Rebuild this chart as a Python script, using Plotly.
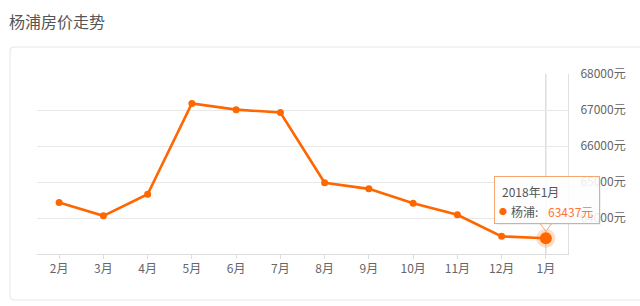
import plotly.graph_objects as go

title_text = "杨浦房价走势"
months = ["2月", "3月", "4月", "5月", "6月", "7月", "8月", "9月", "10月", "11月", "12月", "1月"]
prices = [64430, 64060, 64660, 67180, 67010, 66930, 64980, 64810, 64410, 64090, 63490, 63437]
y_ticks = [64000, 65000, 66000, 67000, 68000]
y_suffix = "元"
series_name = "杨浦"
tooltip_date = "2018年1月"

ORANGE = "#ff6600"
FONT = "Noto Sans CJK SC"

W, H = 640, 306
ML, MR, MT, MB = 37, 72, 74, 52
PW, PH = W - ML - MR, H - MT - MB


def px_x(p):
    return (p - ML) / PW


def px_y(p):
    return (H - MB - p) / PH


fig = go.Figure()
fig.add_trace(go.Scatter(
    x=months, y=prices, mode="lines+markers",
    line=dict(color=ORANGE, width=2.6),
    marker=dict(size=7, color=ORANGE),
    hoverinfo="skip", showlegend=False,
))
# highlighted (hovered) last point
fig.add_trace(go.Scatter(
    x=[months[-1]], y=[prices[-1]], mode="markers",
    marker=dict(size=19, color="rgba(255,102,0,0.22)"),
    hoverinfo="skip", showlegend=False,
))
fig.add_trace(go.Scatter(
    x=[months[-1]], y=[prices[-1]], mode="markers",
    marker=dict(size=12, color=ORANGE),
    hoverinfo="skip", showlegend=False,
))

shapes = []
# card border with rounded corners
x0, x1 = px_x(10), px_x(645)
y0, y1 = px_y(47), px_y(300)
rx, ry = 4 / PW, 4 / PH
card = (f"M {x0+rx},{y0} L {x1},{y0} L {x1},{y1} L {x0+rx},{y1} "
        f"Q {x0},{y1} {x0},{y1+ry} L {x0},{y0-ry} Q {x0},{y0} {x0+rx},{y0} Z")
shapes.append(dict(type="path", xref="paper", yref="paper", path=card,
                   line=dict(color="#e6e6e6", width=1), layer="below"))
# axis pointer line
shapes.append(dict(type="line", xref="x", yref="paper", x0=months[-1], x1=months[-1],
                   y0=0, y1=1, line=dict(color="#cccccc", width=1), layer="below"))
# tooltip pointer triangle
tip = "M -6,15 L 0,7 L 6,15 Z"
shapes.append(dict(type="path", xref="x", yref="y", xsizemode="pixel", ysizemode="pixel",
                   xanchor=months[-1], yanchor=prices[-1], path=tip,
                   fillcolor="white",
                   line=dict(color="#f7a66f", width=1), layer="above"))

annotations = [
    # shadow
    dict(x=months[-1], y=prices[-1], xref="x", yref="y", text=" ",
         showarrow=False, xanchor="center", yanchor="middle", xshift=3, yshift=36,
         width=104, height=46, bgcolor="rgba(0,0,0,0.06)", borderwidth=0, borderpad=0),
    # box
    dict(x=months[-1], y=prices[-1], xref="x", yref="y", text=" ",
         showarrow=False, xanchor="center", yanchor="middle", xshift=1, yshift=38,
         width=104, height=46, bgcolor="rgba(255,255,255,0.88)",
         bordercolor="#f7a66f", borderwidth=1, borderpad=0),
    dict(x=months[-1], y=prices[-1], xref="x", yref="y", text=tooltip_date,
         showarrow=False, xanchor="left", yanchor="middle", xshift=-46, yshift=47,
         font=dict(family=FONT, size=12, color="#555555")),
    dict(x=months[-1], y=prices[-1], xref="x", yref="y", text="●",
         showarrow=False, xanchor="center", yanchor="middle", xshift=-43, yshift=27,
         font=dict(family=FONT, size=8, color=ORANGE)),
    dict(x=months[-1], y=prices[-1], xref="x", yref="y", text=f"{series_name}:",
         showarrow=False, xanchor="left", yanchor="middle", xshift=-37, yshift=27,
         font=dict(family=FONT, size=12, color="#555555")),
    dict(x=months[-1], y=prices[-1], xref="x", yref="y", text=f"{prices[-1]}{y_suffix}",
         showarrow=False, xanchor="left", yanchor="middle", xshift=0, yshift=27,
         font=dict(family=FONT, size=12, color="#ff7433")),
]

fig.update_layout(
    width=W, height=H,
    margin=dict(l=ML, r=MR, t=MT, b=MB, pad=0),
    paper_bgcolor="white", plot_bgcolor="white",
    title=dict(text=title_text, xref="container", yref="container",
               x=9 / W, xanchor="left", y=1 - 22.5 / H, yanchor="middle",
               font=dict(family=FONT, size=16, color="#555555")),
    xaxis=dict(type="category", categoryorder="array", categoryarray=months,
               range=[-0.5, len(months) - 0.5], showgrid=False,
               showline=True, linecolor="#dddddd", linewidth=1,
               ticks="outside", ticklen=4, tickcolor="#dddddd",
               tickfont=dict(family=FONT, size=12, color="#666666"),
               fixedrange=True),
    yaxis=dict(side="right", range=[63000, 68000], tickvals=y_ticks,
               ticktext=[f"{v}{y_suffix}" for v in y_ticks],
               showgrid=True, gridcolor="#e8e8e8", gridwidth=1, zeroline=False,
               showline=True, linecolor="#e0e0e0", linewidth=1, mirror=False,
               ticks="", ticklabelstandoff=9,
               tickfont=dict(family=FONT, size=12, color="#666666"),
               fixedrange=True),
    shapes=shapes, annotations=annotations,
    hovermode=False,
)

fig.write_html("out.html")
